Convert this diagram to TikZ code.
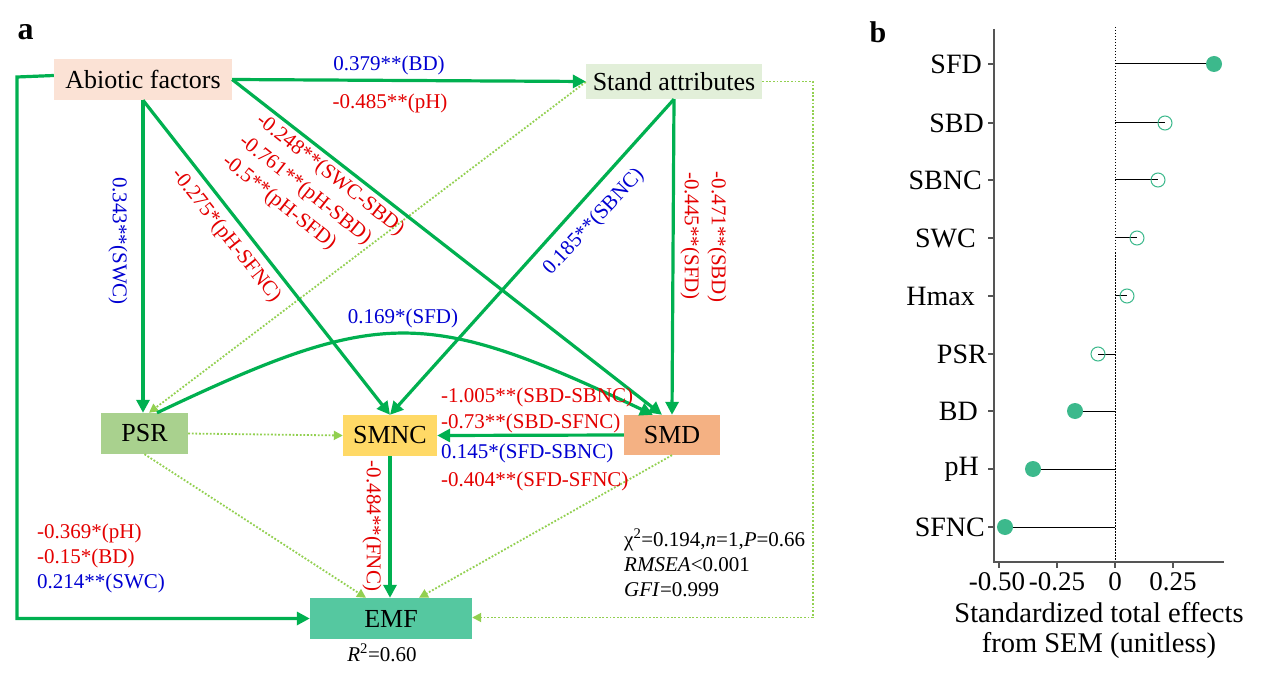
\documentclass[tikz,border=0pt]{standalone}
\usepackage{fontspec}
\setmainfont{Liberation Serif}
\usetikzlibrary{arrows.meta}
\definecolor{garrow}{RGB}{0,176,80}
\definecolor{ldot}{RGB}{146,208,80}
\definecolor{lred}{RGB}{228,0,0}
\definecolor{lblue}{RGB}{0,0,210}
\definecolor{cabio}{RGB}{251,226,213}
\definecolor{cstand}{RGB}{226,239,217}
\definecolor{cpsr}{RGB}{169,209,142}
\definecolor{csmnc}{RGB}{255,217,102}
\definecolor{csmd}{RGB}{244,177,131}
\definecolor{cemf}{RGB}{85,200,160}
\definecolor{cdot}{RGB}{60,185,140}
\definecolor{caxis}{RGB}{85,85,85}
\begin{document}
\begin{tikzpicture}[x=1pt,y=-1pt,
  box/.style={draw=none,inner sep=0pt,font=\fontsize{26}{30}\selectfont},
  garr/.style={draw=garrow,line width=3.2pt,-{Triangle[length=13pt,width=13pt]}},
  darr/.style={draw=ldot,line width=1.8pt,dash pattern=on 1.8pt off 1.8pt,-{Triangle[length=9pt,width=9pt]}},
  lab/.style={inner sep=0pt,font=\fontsize{21}{25}\selectfont},
  rl/.style={lab,text=lred},
  bl/.style={lab,text=lblue},
  cat/.style={inner sep=0pt,anchor=east,font=\fontsize{28}{32}\selectfont},
  tick/.style={inner sep=0pt,font=\fontsize{27}{31}\selectfont},
  stem/.style={draw=black,line width=1pt},
  fdot/.style={fill=cdot,draw=none},
  odot/.style={draw=cdot,line width=1pt}
]
\useasboundingbox (0,0) rectangle (1270,679);
\fill[white] (0,0) rectangle (1270,679);

% panel letters
\node[inner sep=0pt,anchor=base,font=\fontsize{32}{36}\selectfont\bfseries] (pa) at (25.5,40) {a};
\node[inner sep=0pt,anchor=base,font=\fontsize{30}{34}\selectfont\bfseries] (pb) at (878,43) {b};

% nodes
\node[box,fill=cabio,minimum width=178pt,minimum height=41pt] (abio) at (143,79.5) {Abiotic factors};
\node[box,fill=cstand,minimum width=176pt,minimum height=35pt] (stand) at (674,81.5) {Stand attributes};
\node[box,fill=cpsr,minimum width=87pt,minimum height=41pt] (psr) at (144.5,433.5) {PSR};
\node[box,fill=csmnc,minimum width=94pt,minimum height=41pt] (smnc) at (390,435.5) {SMNC};
\node[box,fill=csmd,minimum width=96pt,minimum height=40pt] (smd) at (672,435) {SMD};
\node[box,fill=cemf,minimum width=162pt,minimum height=41pt] (emf) at (391,618.5) {EMF};

% dotted paths
\draw[darr] ([yshift=-0.5pt]stand.west) -- ([xshift=4.5pt]psr.north);
\draw[darr] (psr.east) -- (smnc.west);
\draw[darr] (psr.south) -- ([xshift=-25pt]emf.north);
\draw[darr] (smd.south) -- ([xshift=28pt]emf.north);
\draw[darr] (stand.east) -- (813,81.5) -- (813,617.5) -- ([yshift=1pt]emf.east);

% solid green paths
\draw[garr] (abio.east) -- (stand.west);
\draw[garr] ([yshift=4pt]abio.west) -- (17,77) -- (17,618.5) -- (emf.west);
\draw[garr] (abio.south) -- (abio.south |- psr.north);
\draw[garr] (abio.south) -- (smnc.north);
\draw[garr] (abio.east) -- ([xshift=-10pt]smd.north);
\draw[garr] (stand.south) -- (smnc.north);
\draw[garr] (stand.south) -- (smd.north);
\draw[garr] ([xshift=12.5pt]psr.north) .. controls (380,307) and (425,307) .. ([xshift=-19pt]smd.north);
\draw[garr] (smd.west) -- (smnc.east);
\draw[garr] (smnc.south) -- (smnc.south |- emf.north);

% path labels
\node[bl] (l1) at (389,65) {0.379**(BD)};
\node[rl] (l2) at (390,103) {-0.485**(pH)};
\node[bl,rotate=-90] (l3) at (118,241) {0.343**(SWC)};
\node[rl,rotate=-51.7] (l4) at (226,236) {-0.275*(pH-SFNC)};
\node[rl,rotate=-38.5] (l5) at (330,175) {-0.248**(SWC-SBD)};
\node[rl,rotate=-38.5] (l6) at (305,190) {-0.761**(pH-SBD)};
\node[rl,rotate=-38.5] (l7) at (279,203) {-0.5**(pH-SFD)};
\node[bl,rotate=47] (l8) at (594,222) {0.185**(SBNC)};
\node[rl,rotate=-90] (l9) at (690,236) {-0.445**(SFD)};
\node[rl,rotate=-90] (l10) at (717,237) {-0.471**(SBD)};
\node[bl] (l11) at (403,318) {0.169*(SFD)};
\node[rl,anchor=west] (l12) at (441,397) {-1.005**(SBD-SBNC)};
\node[rl,anchor=west] (l13) at (441,423) {-0.73**(SBD-SFNC)};
\node[bl,anchor=west] (l14) at (441,453) {0.145*(SFD-SBNC)};
\node[rl,anchor=west] (l15) at (441,481) {-0.404**(SFD-SFNC)};
\node[rl,rotate=-90] (l16) at (372,526) {-0.484**(FNC)};
\node[rl,anchor=west] (l17) at (37,533) {-0.369*(pH)};
\node[rl,anchor=west] (l18) at (37,558) {-0.15*(BD)};
\node[bl,anchor=west] (l19) at (37,583) {0.214**(SWC)};
\node[lab] (r2) at (382,653) {\textit{R}\textsuperscript{2}=0.60};
\node[lab,anchor=west] (s1) at (624,540) {χ\textsuperscript{2}=0.194,\textit{n}=1,\textit{P}=0.66};
\node[lab,anchor=west] (s2) at (624,565) {\textit{RMSEA}<0.001};
\node[lab,anchor=west] (s3) at (624,590) {\textit{GFI}=0.999};

% panel b
\draw[black,line width=0.8pt,dash pattern=on 1.5pt off 1.5pt] (1115,27) -- (1115,562);
\draw[caxis,line width=2pt] (994,29) -- (994,562) -- (1224,562);
\foreach \yy in {64,123,180,238,296,354,411,469,527} {\draw[caxis,line width=1.5pt] (988,\yy) -- (994,\yy);}
\foreach \xx in {999,1057,1115,1173} {\draw[caxis,line width=1.5pt] (\xx,562) -- (\xx,568);}
\node[tick] (t1) at (997,582) {-0.50};
\node[tick] (t2) at (1057,582) {-0.25};
\node[tick] (t3) at (1115,582) {0};
\node[tick] (t4) at (1173,582) {0.25};

\node[cat] (c1) at (982,64) {SFD};
\node[cat] (c2) at (984,123) {SBD};
\node[cat] (c3) at (982,180) {SBNC};
\node[cat] (c4) at (976,238) {SWC};
\node[cat] (c5) at (975,296) {Hmax};
\node[cat] (c6) at (987,354) {PSR};
\node[cat] (c7) at (978,411) {BD};
\node[cat] (c8) at (979,469) {pH};
\node[cat] (c9) at (985,527) {SFNC};

\draw[stem] (1115,64) -- (1214,64);
\draw[stem] (1115,123) -- (1165,123);
\draw[stem] (1115,180) -- (1158,180);
\draw[stem] (1115,238) -- (1137,238);
\draw[stem] (1115,296) -- (1127,296);
\draw[stem] (1115,354) -- (1098,354);
\draw[stem] (1115,411) -- (1075,411);
\draw[stem] (1115,469) -- (1033,469);
\draw[stem] (1115,527) -- (1005,527);
\fill[fdot] (1214,64) circle (8pt);
\draw[odot] (1165,123) circle (7pt);
\draw[odot] (1158,180) circle (7pt);
\draw[odot] (1137,238) circle (7pt);
\draw[odot] (1127,296) circle (7pt);
\draw[odot] (1098,354) circle (7pt);
\fill[fdot] (1075,411) circle (8pt);
\fill[fdot] (1033,469) circle (8pt);
\fill[fdot] (1005,527) circle (8pt);

\node[inner sep=0pt,font=\fontsize{28.5}{32}\selectfont] (ax1) at (1099,613) {Standardized total effects};
\node[inner sep=0pt,font=\fontsize{28.5}{32}\selectfont] (ax2) at (1099,645) {from SEM (unitless)};
\end{tikzpicture}
\end{document}
